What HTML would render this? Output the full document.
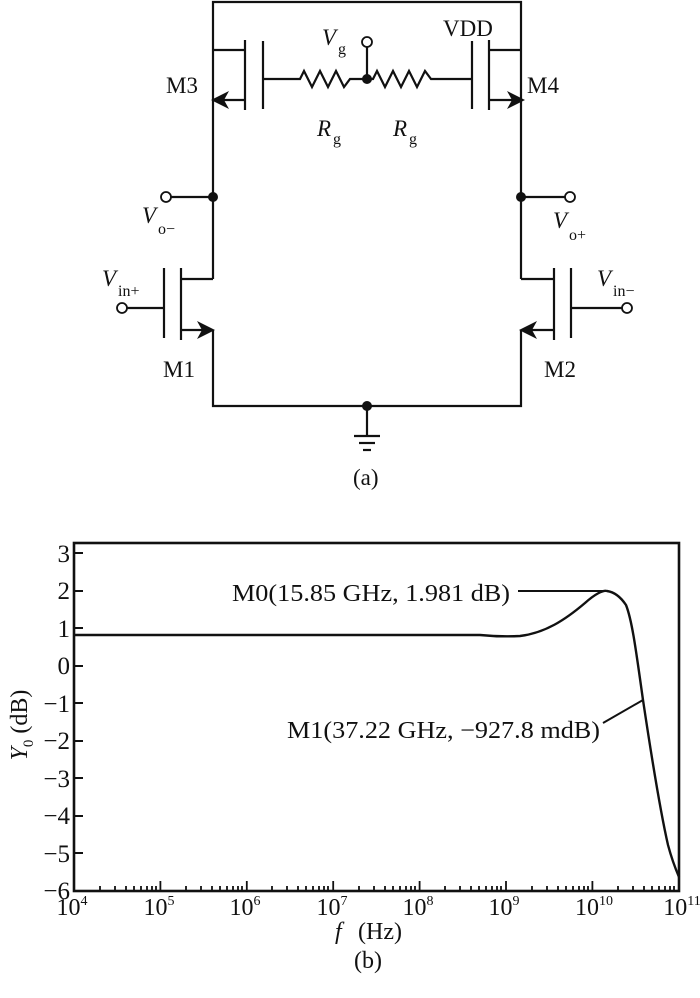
<!DOCTYPE html>
<html><head><meta charset="utf-8"><style>
html,body{margin:0;padding:0;background:#fff;}
svg{display:block;}
text{font-family:"Liberation Serif",serif;fill:#111;}
</style></head><body>
<svg width="700" height="998" viewBox="0 0 700 998" xmlns="http://www.w3.org/2000/svg">
<g stroke="#111" stroke-width="2.2" fill="none">
<polyline points="213,100 213,2 521,2 521,100"/>
<line x1="213" y1="50" x2="245" y2="50"/>
<line x1="521" y1="50" x2="489" y2="50"/>
<line x1="245" y1="40" x2="245" y2="110"/>
<line x1="263" y1="41" x2="263" y2="109"/>
<line x1="245" y1="100" x2="222" y2="100"/>
<line x1="489" y1="40" x2="489" y2="110"/>
<line x1="472" y1="41" x2="472" y2="109"/>
<line x1="489" y1="100" x2="512" y2="100"/>
<polyline points="263,79 300,79 304,71 312,87 320,71 328,87 336,71 344,87 350,79 367,79 373,79 377,71 385,87 393,71 401,87 409,71 417,87 425,71 431,79 472,79"/>
<line x1="367" y1="79" x2="367" y2="47"/>
<line x1="213" y1="100" x2="213" y2="279"/>
<line x1="213" y1="279" x2="181" y2="279"/>
<line x1="213" y1="197" x2="171" y2="197"/>
<line x1="181" y1="268" x2="181" y2="340"/>
<line x1="164" y1="268" x2="164" y2="338"/>
<line x1="164" y1="308" x2="127" y2="308"/>
<line x1="181" y1="330" x2="204" y2="330"/>
<polyline points="213,330 213,406 521,406 521,330"/>
<line x1="521" y1="100" x2="521" y2="279"/>
<line x1="521" y1="279" x2="554" y2="279"/>
<line x1="521" y1="197" x2="565" y2="197"/>
<line x1="554" y1="268" x2="554" y2="340"/>
<line x1="571" y1="268" x2="571" y2="338"/>
<line x1="571" y1="308" x2="622" y2="308"/>
<line x1="554" y1="330" x2="530" y2="330"/>
<line x1="367" y1="406" x2="367" y2="436"/>
<line x1="354" y1="436" x2="380" y2="436"/>
<line x1="359" y1="443" x2="375" y2="443"/>
<line x1="363" y1="450" x2="371" y2="450"/>
</g>
<g fill="#111">
<polygon points="211,100 229,91 224,100 229,109"/>
<polygon points="525,100 507,91 512,100 507,109"/>
<polygon points="215,330 197,321 202,330 197,339"/>
<polygon points="519,330 537,321 532,330 537,339"/>
<circle cx="367" cy="79" r="5"/>
<circle cx="213" cy="197" r="5"/>
<circle cx="521" cy="197" r="5"/>
<circle cx="367" cy="406" r="5"/>
</g>
<g fill="#fff" stroke="#111" stroke-width="1.8">
<circle cx="367" cy="42" r="5"/>
<circle cx="166" cy="197" r="5"/>
<circle cx="570" cy="197" r="5"/>
<circle cx="122" cy="308" r="5"/>
<circle cx="627" cy="308" r="5"/>
</g>
<g font-size="23">
<text x="166" y="93">M3</text>
<text x="527" y="93">M4</text>
<text x="443" y="36">VDD</text>
<text x="322" y="45" font-style="italic">V</text><text x="338" y="54" font-size="16">g</text>
<text x="317" y="136" font-style="italic">R</text><text x="333" y="144" font-size="16">g</text>
<text x="393" y="136" font-style="italic">R</text><text x="409" y="144" font-size="16">g</text>
<text x="142" y="223" font-style="italic">V</text><text x="158" y="234" font-size="16">o−</text>
<text x="553" y="228" font-style="italic">V</text><text x="569" y="240" font-size="16">o+</text>
<text x="102" y="286" font-style="italic">V</text><text x="118" y="296" font-size="16">in+</text>
<text x="597" y="286" font-style="italic">V</text><text x="613" y="296" font-size="16">in−</text>
<text x="163" y="377">M1</text>
<text x="544" y="377">M2</text>
<text x="353" y="485">(a)</text>
</g>
<rect x="74" y="543" width="605" height="348" fill="none" stroke="#111" stroke-width="2.6"/>
<g stroke="#111" stroke-width="2">
<line x1="74" y1="553" x2="83" y2="553"/><line x1="74" y1="591" x2="83" y2="591"/>
<line x1="74" y1="628" x2="83" y2="628"/><line x1="74" y1="666" x2="83" y2="666"/>
<line x1="74" y1="703" x2="83" y2="703"/><line x1="74" y1="741" x2="83" y2="741"/>
<line x1="74" y1="778" x2="83" y2="778"/><line x1="74" y1="816" x2="83" y2="816"/>
<line x1="74" y1="853" x2="83" y2="853"/>
</g>
<g stroke="#111" stroke-width="1.8">
<path d="M160.4,891v-10M246.8,891v-10M333.2,891v-10M419.6,891v-10M506,891v-10M592.4,891v-10
M100,891v-5M115,891v-5M126,891v-5M134,891v-5M141,891v-5M147,891v-5M152,891v-5M156,891v-5
M186,891v-5M201,891v-5M212,891v-5M220,891v-5M227,891v-5M233,891v-5M238,891v-5M242,891v-5
M272,891v-5M287,891v-5M298,891v-5M306,891v-5M313,891v-5M319,891v-5M324,891v-5M328,891v-5
M359,891v-5M374,891v-5M385,891v-5M393,891v-5M400,891v-5M406,891v-5M411,891v-5M415,891v-5
M445,891v-5M460,891v-5M471,891v-5M479,891v-5M486,891v-5M492,891v-5M497,891v-5M501,891v-5
M532,891v-5M547,891v-5M558,891v-5M566,891v-5M573,891v-5M579,891v-5M584,891v-5M588,891v-5
M618,891v-5M633,891v-5M644,891v-5M652,891v-5M659,891v-5M665,891v-5M670,891v-5M674,891v-5"/>
</g>
<g font-size="25" text-anchor="end">
<text x="70" y="562">3</text><text x="70" y="599">2</text><text x="70" y="637">1</text>
<text x="70" y="674">0</text><text x="70" y="712">−1</text><text x="70" y="749">−2</text>
<text x="70" y="787">−3</text><text x="70" y="824">−4</text><text x="70" y="862">−5</text>
<text x="70" y="899">−6</text>
</g>
<g font-size="24" text-anchor="middle">
<text x="72" y="915">10<tspan font-size="14" dy="-10">4</tspan></text>
<text x="159" y="915">10<tspan font-size="14" dy="-10">5</tspan></text>
<text x="245" y="915">10<tspan font-size="14" dy="-10">6</tspan></text>
<text x="332" y="915">10<tspan font-size="14" dy="-10">7</tspan></text>
<text x="418" y="915">10<tspan font-size="14" dy="-10">8</tspan></text>
<text x="504" y="915">10<tspan font-size="14" dy="-10">9</tspan></text>
<text x="594" y="915">10<tspan font-size="14" dy="-10">10</tspan></text>
<text x="682" y="915">10<tspan font-size="14" dy="-10">11</tspan></text>
</g>
<text x="335" y="939" font-size="24" font-style="italic">f</text>
<text x="358" y="939" font-size="24">(Hz)</text>
<text x="354" y="968" font-size="24">(b)</text>
<g transform="translate(27,725) rotate(-90)">
<text x="0" y="0" font-size="24" text-anchor="middle"><tspan font-style="italic">Y</tspan><tspan font-size="15" dy="6">0</tspan><tspan dy="-6"> (dB)</tspan></text>
</g>
<path d="M74,635 L480,635 Q500,637 520,636 C545,633 565,620 585,603 C595,594 603,590 607,591 C614,592 620,596 626,605 C632,620 636,650 643,700 C652,760 660,810 668,845 C672,860 676,870 679,877" fill="none" stroke="#111" stroke-width="2.4"/>
<line x1="518" y1="591" x2="607" y2="591" stroke="#111" stroke-width="2"/>
<line x1="643" y1="700" x2="603" y2="723" stroke="#111" stroke-width="2"/>
<text x="232" y="601" font-size="24" textLength="278" lengthAdjust="spacingAndGlyphs">M0(15.85 GHz, 1.981 dB)</text>
<text x="287" y="738" font-size="24" textLength="313" lengthAdjust="spacingAndGlyphs">M1(37.22 GHz, −927.8 mdB)</text>
</svg>
</body></html>
